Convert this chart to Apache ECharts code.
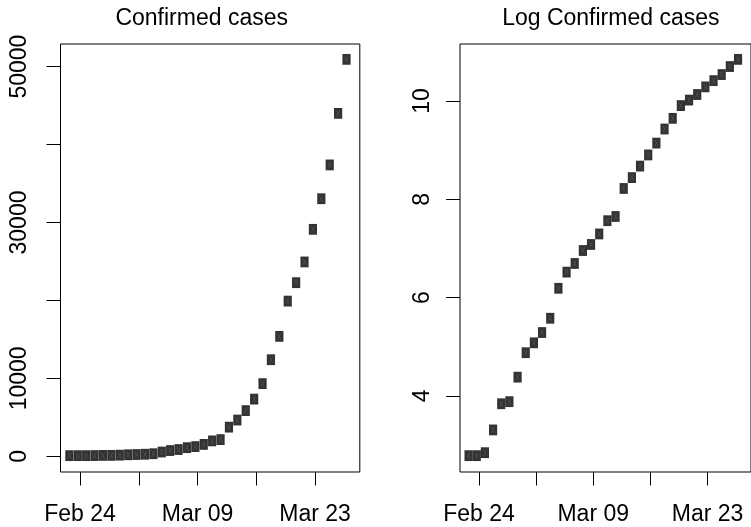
<!DOCTYPE html>
<html><head><meta charset="utf-8">
<script src="https://cdn.jsdelivr.net/npm/echarts@6/dist/echarts.min.js"></script>
<style>html,body{margin:0;padding:0;background:#fff}#c{width:751px;height:527px}</style>
</head><body><div id="c"></div>
<script>
// ---- data ----
const dates = ['2020-02-23','2020-02-24','2020-02-25','2020-02-26','2020-02-27','2020-02-28','2020-02-29',
  '2020-03-01','2020-03-02','2020-03-03','2020-03-04','2020-03-05','2020-03-06','2020-03-07','2020-03-08',
  '2020-03-09','2020-03-10','2020-03-11','2020-03-12','2020-03-13','2020-03-14','2020-03-15','2020-03-16',
  '2020-03-17','2020-03-18','2020-03-19','2020-03-20','2020-03-21','2020-03-22','2020-03-23','2020-03-24',
  '2020-03-25','2020-03-26','2020-03-27'];
const confirmed = [16,16,17,27,46,48,79,130,159,196,262,482,670,799,1040,1176,1457,1908,2078,3675,4585,
  5795,7272,9257,12327,15320,19848,22213,24873,29056,32986,37323,43938,50871];
const xTickDates = ['2020-02-24','2020-03-02','2020-03-09','2020-03-16','2020-03-23'];
const xLabelDates = ['2020-02-24','2020-03-09','2020-03-23'];
const xLabelNames = ['Feb 24','Mar 09','Mar 23'];
const yTicksLeft = [0,10000,20000,30000,40000,50000];
const yLabelsLeft = [0,10000,30000,50000];
const yTicksRight = [4,6,8,10];
const yLabelsRight = [4,6,8,10];
const titles = ['Confirmed cases','Log Confirmed cases'];

// ---- helpers ----
const REF = Date.parse('2020-02-24T00:00:00Z');
const dayNum = s => (Date.parse(s + 'T00:00:00Z') - REF) / 864e5;
const rRange = arr => { const mn = Math.min(...arr), mx = Math.max(...arr), e = 0.04 * (mx - mn); return [mn - e, mx + e]; };
const logConfirmed = confirmed.map(v => Math.log(v));
const xs = dates.map(dayNum);
const xr = rRange(xs), yrL = rRange(confirmed), yrR = rRange(logConfirmed);
const labelMap = {}; xLabelDates.forEach((d, i) => labelMap[dayNum(d)] = xLabelNames[i]);

const FONT = '"Liberation Sans", Arial, Helvetica, sans-serif';
const FS = 23;

function xAxis(gi) {
  return {
    type: 'value', gridIndex: gi, min: xr[0], max: xr[1], position: 'bottom',
    axisLine: { show: false, onZero: false }, splitLine: { show: false },
    axisTick: { show: true, inside: false, length: 13.5, lineStyle: { color: '#000', width: 1 }, customValues: xTickDates.map(dayNum) },
    axisLabel: { show: true, customValues: xLabelDates.map(dayNum), formatter: v => labelMap[Math.round(v)] || '',
      fontSize: FS, fontFamily: FONT, color: '#000', margin: 31.5, lineHeight: FS }
  };
}
function yAxis(gi, rng, ticks, labels, margin) {
  return {
    type: 'value', gridIndex: gi, min: rng[0], max: rng[1], position: 'left',
    axisLine: { show: false, onZero: false }, splitLine: { show: false },
    axisTick: { show: true, inside: false, length: 14, lineStyle: { color: '#000', width: 1 }, customValues: ticks },
    axisLabel: { show: true, customValues: labels, rotate: 90, formatter: v => String(v),
      fontSize: FS, fontFamily: FONT, color: '#000', margin: margin, lineHeight: FS }
  };
}
const xPath = 'path://M0,0L1.6,0L10,12L8.4,12Z M8.4,0L10,0L1.6,12L0,12Z';
function pts(gi, ys) {
  const data = xs.map((x, i) => [x, ys[i]]);
  return [
    { type: 'scatter', xAxisIndex: gi, yAxisIndex: gi, data, symbol: 'rect', symbolSize: [8.2, 10.8],
      symbolOffset: [-2.2, -0.5], itemStyle: { color: '#000' }, silent: true, z: 2 },
    { type: 'scatter', xAxisIndex: gi, yAxisIndex: gi, data, symbol: xPath, symbolSize: [4, 6],
      symbolOffset: [-2.2, -0.5], itemStyle: { color: 'rgba(255,255,255,0.22)' }, silent: true, z: 3 }
  ];
}

const chart = echarts.init(document.getElementById('c'), null, { renderer: 'canvas' });
chart.setOption({
  animation: false,
  backgroundColor: '#fff',
  grid: [
    { left: 60.5, top: 44, width: 299.3, height: 428, show: true, borderColor: '#000', borderWidth: 1, backgroundColor: 'transparent' },
    { left: 460, top: 44, width: 299.3, height: 428, show: true, borderColor: '#000', borderWidth: 1, backgroundColor: 'transparent' }
  ],
  xAxis: [xAxis(0), xAxis(1)],
  yAxis: [yAxis(0, yrL, yTicksLeft, yLabelsLeft, 29), yAxis(1, yrR, yTicksRight, yLabelsRight, 25.5)],
  series: [...pts(0, confirmed), ...pts(1, logConfirmed)],
  graphic: [
    { type: 'text', x: 201.7, y: 18.4, style: { text: titles[0], fontSize: FS, fontFamily: FONT, fill: '#000', align: 'center', verticalAlign: 'middle' } },
    { type: 'text', x: 610.8, y: 18.4, style: { text: titles[1], fontSize: FS, fontFamily: FONT, fill: '#000', align: 'center', verticalAlign: 'middle' } }
  ]
});
</script></body></html>
